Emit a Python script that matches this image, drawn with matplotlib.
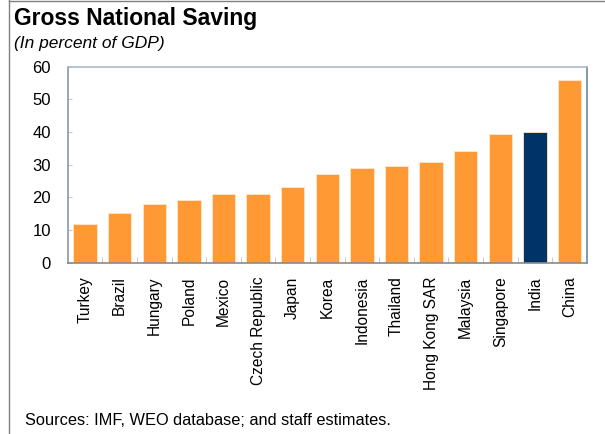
import numpy as np
import matplotlib
matplotlib.use("Agg")
import matplotlib.pyplot as plt
from matplotlib.lines import Line2D

# Donnees
countries = ["Turkey", "Brazil", "Hungary", "Poland", "Mexico", "Czech Republic",
             "Japan", "Korea", "Indonesia", "Thailand", "Hong Kong SAR",
             "Malaysia", "Singapore", "India", "China"]
saving = [11.8, 15.1, 17.9, 19.1, 21.0, 21.0, 23.2, 27.2, 29.0, 29.6, 30.8,
          34.2, 39.5, 40.1, 56.1]
highlight = "India"

plt.rcParams['font.family'] = ['Liberation Sans', 'DejaVu Sans']

fig = plt.figure(figsize=(6.05, 4.34), dpi=100)
ax = fig.add_axes([0.112, 0.395, 0.858, 0.451])

x = np.arange(len(countries))
colors = ['#003366' if c == highlight else '#FF9933' for c in countries]
ax.bar(x, saving, width=0.68, color=colors, edgecolor='#FFE6CC', linewidth=0.6, zorder=2)

ax.set_xlim(-0.5, len(countries) - 0.5)
ax.set_ylim(0, 60)
ax.set_yticks(np.arange(0, 61, 10))
ax.set_xticks(x)
ax.set_xticklabels(countries, rotation=90, fontsize=11.2)
ax.tick_params(axis='x', length=0, pad=10)
ax.set_xticks(np.arange(0.5, len(countries) - 1, 1), minor=True)
ax.tick_params(axis='x', which='minor', direction='in', length=4, color='#C0C0C0')
ax.tick_params(axis='y', direction='in', length=3, color='#C8C8C8', labelsize=12, pad=12)

ax.spines['left'].set_color('#8499AD')
ax.spines['top'].set_color('#A9BCCC')
ax.spines['right'].set_color('#6F869C')
ax.spines['bottom'].set_color('#8A8A8A')
for s in ax.spines.values():
    s.set_linewidth(1.2)

# Titres
fig.text(0.023, 0.985, "Gross National Saving", fontsize=16.5, fontweight='bold', va='top')
fig.text(0.023, 0.918, "(In percent of GDP)", fontsize=12.5, style='italic', va='top')
fig.text(0.041, 0.03, "Sources: IMF, WEO database; and staff estimates.", fontsize=11.8, va='center')

# Cadre
fig.add_artist(Line2D([0.015, 0.015], [0, 1], transform=fig.transFigure, color='#808080', lw=1))
fig.add_artist(Line2D([0.015, 1], [0.997, 0.997], transform=fig.transFigure, color='#808080', lw=1))

fig.savefig("out.png", dpi=100)
